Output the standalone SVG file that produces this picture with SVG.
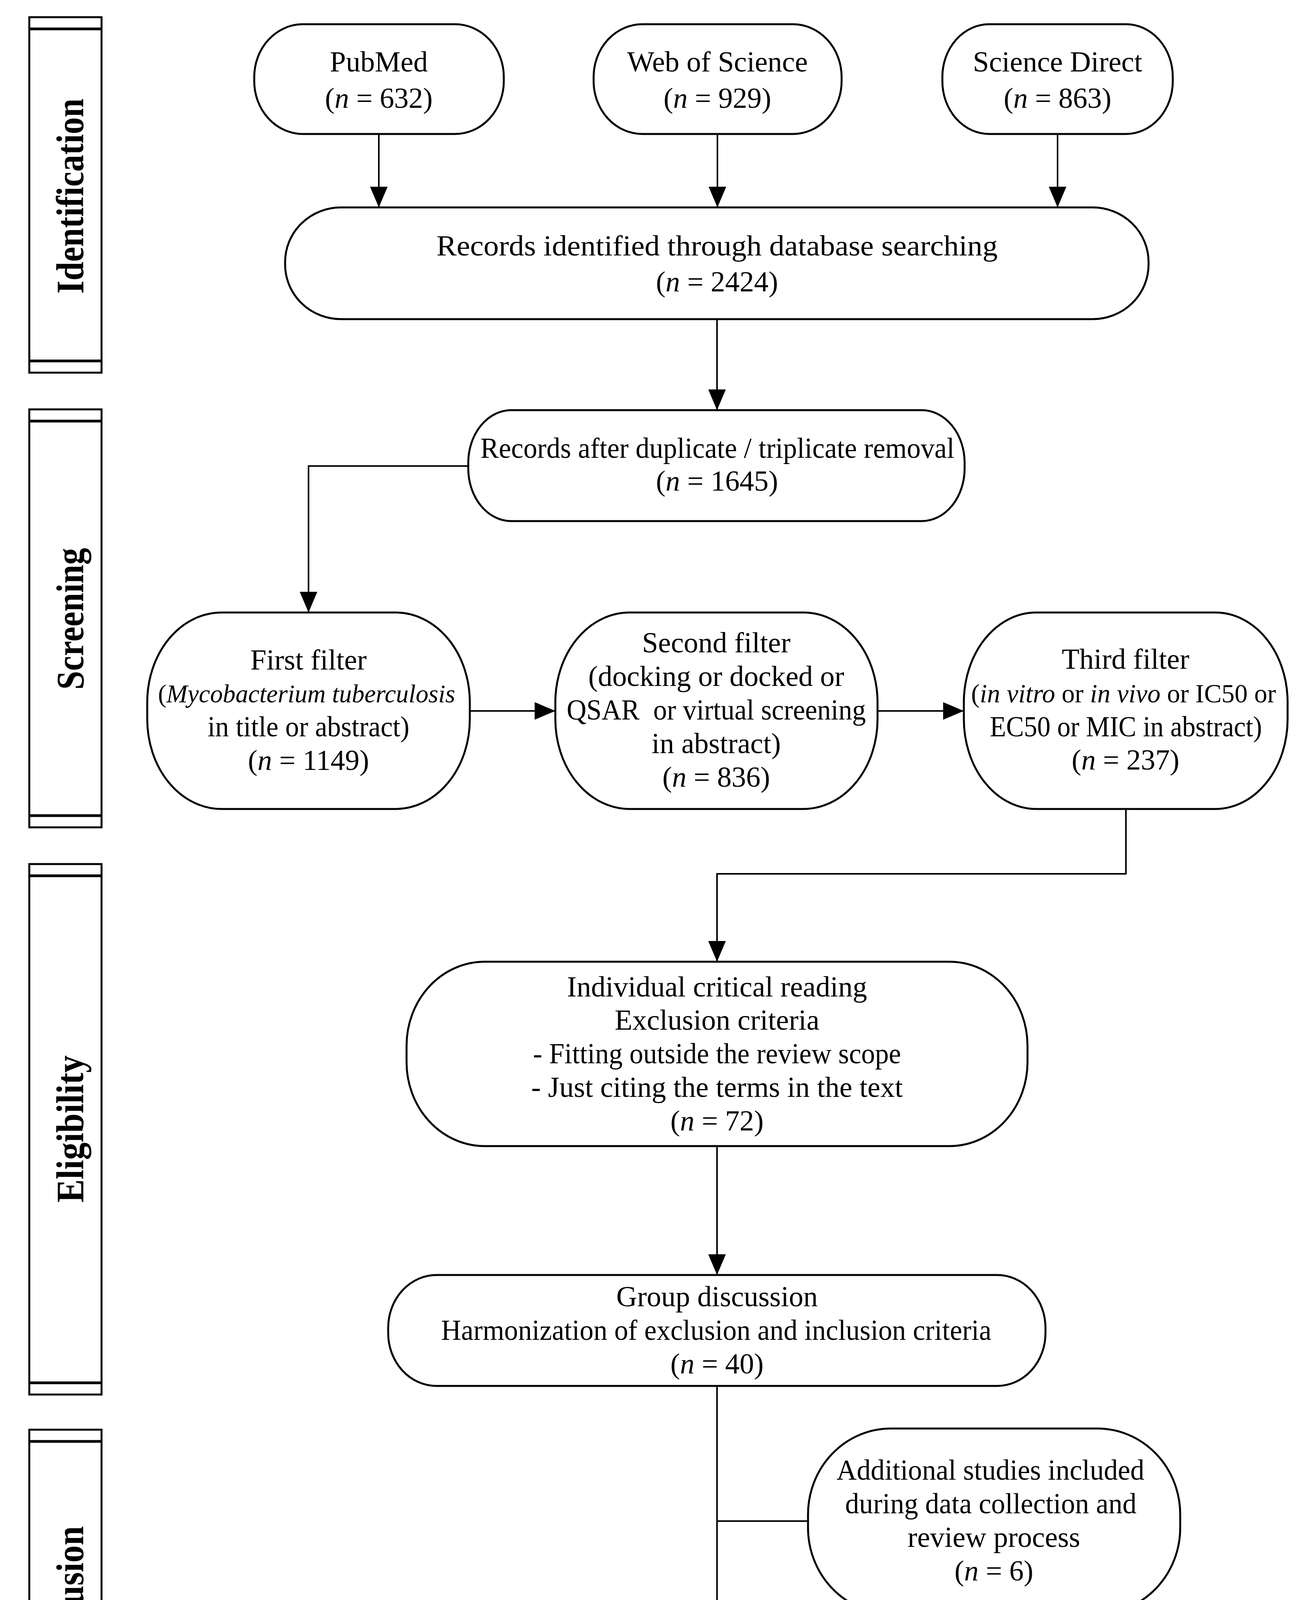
<svg xmlns="http://www.w3.org/2000/svg" width="3339" height="4543" viewBox="0 0 3339 4543">
<style>
.bg{fill:#ffffff}
.node{fill:#ffffff;stroke:#000000;stroke-width:5}
.bar{fill:#ffffff;stroke:#000000;stroke-width:5}
.band{stroke:#000000;stroke-width:7}
.conn{fill:none;stroke:#000000;stroke-width:4}
.t{font-family:"Liberation Serif","Times New Roman",serif;font-size:74px;fill:#000000;text-anchor:middle}
.i{font-style:italic}
.stage{font-family:"Liberation Serif","Times New Roman",serif;font-size:100px;font-weight:bold;fill:#000000;text-anchor:middle}
</style>
<defs>
<marker id="arrow" viewBox="0 0 53 45" refX="53" refY="22.5" markerWidth="53" markerHeight="45" markerUnits="userSpaceOnUse" orient="auto">
<path d="M0,0 L53,22.5 L0,45 z" fill="#000000"/>
</marker>
</defs>
<rect class="bg" x="0" y="0" width="3339" height="4543"/>

<g id="stage-identification">
<rect class="bar" x="75" y="44" width="185" height="910"/>
<line class="band" x1="75" y1="74" x2="260" y2="74"/>
<line class="band" x1="75" y1="924" x2="260" y2="924"/>
<text class="stage" transform="translate(213,502) rotate(-90)" textLength="500" lengthAdjust="spacingAndGlyphs">Identification</text>
</g>
<g id="stage-screening">
<rect class="bar" x="75" y="1048" width="185" height="1070"/>
<line class="band" x1="75" y1="1078" x2="260" y2="1078"/>
<line class="band" x1="75" y1="2088" x2="260" y2="2088"/>
<text class="stage" transform="translate(213,1584) rotate(-90)" textLength="363" lengthAdjust="spacingAndGlyphs">Screening</text>
</g>
<g id="stage-eligibility">
<rect class="bar" x="75" y="2212" width="185" height="1358"/>
<line class="band" x1="75" y1="2242" x2="260" y2="2242"/>
<line class="band" x1="75" y1="3540" x2="260" y2="3540"/>
<text class="stage" transform="translate(213,2890) rotate(-90)" textLength="377" lengthAdjust="spacingAndGlyphs">Eligibility</text>
</g>
<g id="stage-inclusion">
<rect class="bar" x="75" y="3660" width="185" height="845"/>
<line class="band" x1="75" y1="3690" x2="260" y2="3690"/>
<line class="band" x1="75" y1="4475" x2="260" y2="4475"/>
<text class="stage" transform="translate(213,4081) rotate(-90)" textLength="348" lengthAdjust="spacingAndGlyphs">Inclusion</text>
</g>

<g id="connectors">
<path class="conn" d="M970,343 V531" marker-end="url(#arrow)"/>
<path class="conn" d="M1837,343 V531" marker-end="url(#arrow)"/>
<path class="conn" d="M2708,343 V531" marker-end="url(#arrow)"/>
<path class="conn" d="M1836,817 V1050" marker-end="url(#arrow)"/>
<path class="conn" d="M1199,1193 H790 V1568" marker-end="url(#arrow)"/>
<path class="conn" d="M1203,1820 H1422" marker-end="url(#arrow)"/>
<path class="conn" d="M2247,1820 H2468" marker-end="url(#arrow)"/>
<path class="conn" d="M2883,2071 V2237 H1836 V2462" marker-end="url(#arrow)"/>
<path class="conn" d="M1836,2934 V3264" marker-end="url(#arrow)"/>
<path class="conn" d="M1836,3548 V4220" marker-end="url(#arrow)"/>
<path class="conn" d="M2069,3894 H1836"/>
</g>

<g id="node-pubmed">
<rect class="node" x="651" y="62" width="639" height="281" rx="125" ry="135"/>
<text class="t" x="970" y="183">PubMed</text>
<text class="t" x="970" y="276">(<tspan class="i">n</tspan> = 632)</text>
</g>
<g id="node-wos">
<rect class="node" x="1520" y="62" width="635" height="281" rx="125" ry="135"/>
<text class="t" x="1837" y="183">Web of Science</text>
<text class="t" x="1837" y="276">(<tspan class="i">n</tspan> = 929)</text>
</g>
<g id="node-sciencedirect">
<rect class="node" x="2413" y="62" width="590" height="281" rx="120" ry="135"/>
<text class="t" x="2708" y="183">Science Direct</text>
<text class="t" x="2708" y="276">(<tspan class="i">n</tspan> = 863)</text>
</g>
<g id="node-records-identified">
<rect class="node" x="730" y="531" width="2211" height="286" rx="143" ry="140"/>
<text class="t" x="1836" y="654" textLength="1437" lengthAdjust="spacingAndGlyphs">Records identified through database searching</text>
<text class="t" x="1836" y="746">(<tspan class="i">n</tspan> = 2424)</text>
</g>
<g id="node-records-after">
<rect class="node" x="1199" y="1050" width="1271" height="284" rx="110" ry="135"/>
<text class="t" x="1837" y="1172" textLength="1214" lengthAdjust="spacingAndGlyphs">Records after duplicate / triplicate removal</text>
<text class="t" x="1836" y="1256">(<tspan class="i">n</tspan> = 1645)</text>
</g>
<g id="node-first-filter">
<rect class="node" x="377" y="1568" width="826" height="503" rx="190" ry="230"/>
<text class="t" x="790" y="1714">First filter</text>
<text class="t" x="785" y="1798" style="font-size:65px">(<tspan class="i">Mycobacterium tuberculosis</tspan></text>
<text class="t" x="790" y="1885" textLength="517" lengthAdjust="spacingAndGlyphs">in title or abstract)</text>
<text class="t" x="790" y="1971">(<tspan class="i">n</tspan> = 1149)</text>
</g>
<g id="node-second-filter">
<rect class="node" x="1422" y="1568" width="825" height="503" rx="190" ry="230"/>
<text class="t" x="1834" y="1670">Second filter</text>
<text class="t" x="1834" y="1756">(docking or docked or</text>
<text class="t" x="1834" y="1842" xml:space="preserve" textLength="766" lengthAdjust="spacingAndGlyphs">QSAR  or virtual screening</text>
<text class="t" x="1834" y="1928">in abstract)</text>
<text class="t" x="1834" y="2014">(<tspan class="i">n</tspan> = 836)</text>
</g>
<g id="node-third-filter">
<rect class="node" x="2468" y="1568" width="829" height="503" rx="185" ry="230"/>
<text class="t" x="2882" y="1712">Third filter</text>
<text class="t" x="2877" y="1798" style="font-size:67px">(<tspan class="i">in vitro</tspan> or <tspan class="i">in vivo</tspan> or IC50 or</text>
<text class="t" x="2883" y="1885" textLength="697" lengthAdjust="spacingAndGlyphs">EC50 or MIC in abstract)</text>
<text class="t" x="2882" y="1970">(<tspan class="i">n</tspan> = 237)</text>
</g>
<g id="node-individual-reading">
<rect class="node" x="1041" y="2462" width="1590" height="472" rx="200" ry="215"/>
<text class="t" x="1836" y="2551">Individual critical reading</text>
<text class="t" x="1836" y="2636">Exclusion criteria</text>
<text class="t" x="1836" y="2722" textLength="942" lengthAdjust="spacingAndGlyphs">- Fitting outside the review scope</text>
<text class="t" x="1836" y="2808">- Just citing the terms in the text</text>
<text class="t" x="1836" y="2894">(<tspan class="i">n</tspan> = 72)</text>
</g>
<g id="node-group-discussion">
<rect class="node" x="994" y="3264" width="1683" height="284" rx="124" ry="135"/>
<text class="t" x="1836" y="3344">Group discussion</text>
<text class="t" x="1834" y="3430" textLength="1409" lengthAdjust="spacingAndGlyphs">Harmonization of exclusion and inclusion criteria</text>
<text class="t" x="1836" y="3516">(<tspan class="i">n</tspan> = 40)</text>
</g>
<g id="node-additional-studies">
<rect class="node" x="2069" y="3657" width="953" height="474" rx="212" ry="220"/>
<text class="t" x="2536" y="3788" textLength="788" lengthAdjust="spacingAndGlyphs">Additional studies included</text>
<text class="t" x="2537" y="3874" textLength="746" lengthAdjust="spacingAndGlyphs">during data collection and</text>
<text class="t" x="2545" y="3960">review process</text>
<text class="t" x="2545" y="4046">(<tspan class="i">n</tspan> = 6)</text>
</g>
<g id="node-selected-studies">
<rect class="node" x="1542" y="4220" width="587" height="283" rx="120" ry="135"/>
<text class="t" x="1836" y="4342">Selected Studies</text>
<text class="t" x="1836" y="4426">(<tspan class="i">n</tspan> = 46)</text>
</g>
</svg>
